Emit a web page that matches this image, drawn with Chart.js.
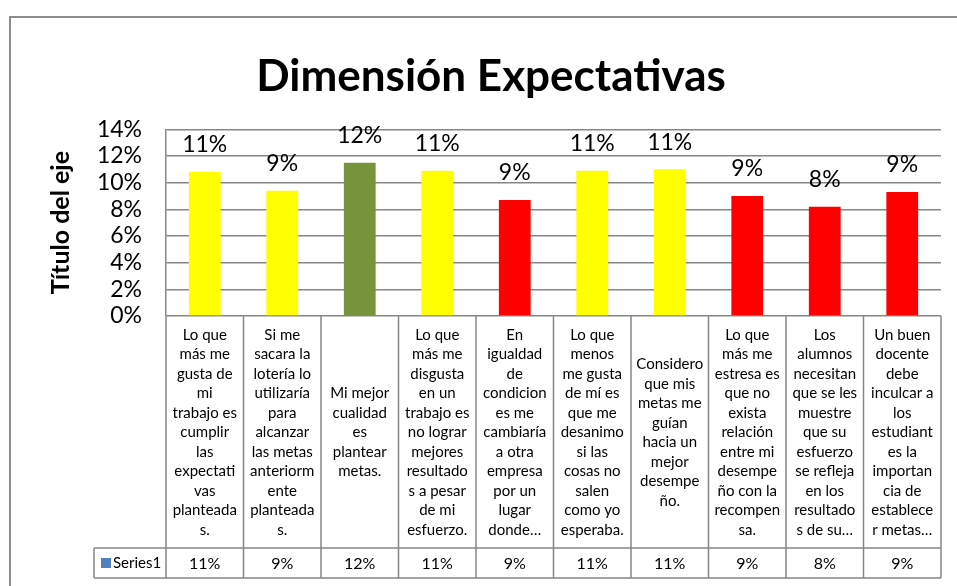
<!DOCTYPE html>
<html>
<head>
<meta charset="utf-8">
<script src="https://cdn.jsdelivr.net/npm/chart.js@4"></script>
<style>
  html, body { margin: 0; padding: 0; background: #fff; overflow: hidden; width: 957px; height: 586px; }
  #marco { position: absolute; left: 9px; top: 16px; width: 960px; height: 580px; border: 2px solid #8c8c8c; }
  canvas { display: block; }
</style>
</head>
<body>
<div id="marco"><canvas id="grafica" width="960" height="580"></canvas></div>
<script>
// Datos
const titulo = 'Dimensión Expectativas';
const tituloEje = 'Título del eje';
const serie = 'Series1';

const categorias = [
  ['Lo que', 'más me', 'gusta de', 'mi', 'trabajo es', 'cumplir', 'las', 'expectati', 'vas', 'planteada', 's.'],
  ['Si me', 'sacara la', 'lotería lo', 'utilizaría', 'para', 'alcanzar', 'las metas', 'anteriorm', 'ente', 'planteada', 's.'],
  ['Mi mejor', 'cualidad', 'es', 'plantear', 'metas.'],
  ['Lo que', 'más me', 'disgusta', 'en un', 'trabajo es', 'no lograr', 'mejores', 'resultado', 's a pesar', 'de mi', 'esfuerzo.'],
  ['En', 'igualdad', 'de', 'condicion', 'es me', 'cambiaría', 'a otra', 'empresa', 'por un', 'lugar', 'donde…'],
  ['Lo que', 'menos', 'me gusta', 'de mí es', 'que me', 'desanimo', 'si las', 'cosas no', 'salen', 'como yo', 'esperaba.'],
  ['Considero', 'que mis', 'metas me', 'guían', 'hacia un', 'mejor', 'desempe', 'ño.'],
  ['Lo que', 'más me', 'estresa es', 'que no', 'exista', 'relación', 'entre mi', 'desempe', 'ño con la', 'recompen', 'sa.'],
  ['Los', 'alumnos', 'necesitan', 'que se les', 'muestre', 'que su', 'esfuerzo', 'se refleja', 'en los', 'resultado', 's de su…'],
  ['Un buen', 'docente', 'debe', 'inculcar a', 'los', 'estudiant', 'es la', 'importan', 'cia de', 'establece', 'r metas…'],
];

// porcentajes
const valores = [10.8, 9.4, 11.5, 10.9, 8.7, 10.9, 11.0, 9.0, 8.2, 9.3];

const AMARILLO = '#ffff00', VERDE = '#77933c', ROJO = '#ff0000';
const colores = [AMARILLO, AMARILLO, VERDE, AMARILLO, ROJO, AMARILLO, AMARILLO, ROJO, ROJO, ROJO];

const marcasY = [0, 2, 4, 6, 8, 10, 12, 14];

const FUENTE = 'Lato, "Noto Sans", sans-serif';
const GRIS = '#868686';

// etiquetas de datos encima de cada barra
const etiquetas = {
  id: 'etiquetas',
  afterDatasetsDraw(chart) {
    const ctx = chart.ctx;
    ctx.save();
    ctx.font = '23px ' + FUENTE;
    ctx.fillStyle = '#000';
    ctx.textAlign = 'center';
    ctx.textBaseline = 'middle';
    chart.getDatasetMeta(0).data.forEach((bar, i) => {
      ctx.fillText(Math.round(valores[i]) + '%', bar.x, bar.y - 27);
    });
    ctx.restore();
  }
};

// tabla de datos bajo el eje x (bordes + fila de la serie)
const tabla = {
  id: 'tabla',
  afterDraw(chart) {
    const ctx = chart.ctx;
    const xs = chart.scales.x;
    const n = categorias.length;
    const ancho = xs.width / n;
    const arriba = xs.top;
    const medio = xs.bottom - 30;
    const abajo = xs.bottom;
    const izqSerie = xs.left - 72;

    ctx.save();
    ctx.strokeStyle = GRIS;
    ctx.lineWidth = 1.5;
    ctx.beginPath();
    for (let i = 0; i <= n; i++) {
      const x = xs.left + i * ancho;
      ctx.moveTo(x, arriba);
      ctx.lineTo(x, abajo);
    }
    ctx.moveTo(izqSerie, medio);
    ctx.lineTo(xs.right, medio);
    ctx.moveTo(izqSerie, abajo);
    ctx.lineTo(xs.right, abajo);
    ctx.moveTo(izqSerie, medio);
    ctx.lineTo(izqSerie, abajo);
    ctx.stroke();

    ctx.fillStyle = '#000';
    ctx.font = '16px ' + FUENTE;
    ctx.textAlign = 'center';
    ctx.textBaseline = 'middle';
    const yFila = (medio + abajo) / 2 + 1;
    valores.forEach((v, i) => {
      ctx.fillText(Math.round(v) + '%', xs.getPixelForValue(i), yFila);
    });

    // leyenda de la serie
    ctx.fillStyle = '#4f81bd';
    ctx.fillRect(izqSerie + 7, yFila - 6, 10, 10);
    ctx.fillStyle = '#000';
    ctx.font = '15px ' + FUENTE;
    ctx.textAlign = 'left';
    ctx.fillText(serie, izqSerie + 19, yFila - 1);
    ctx.restore();
  }
};

new Chart(document.getElementById('grafica'), {
  type: 'bar',
  data: {
    labels: categorias,
    datasets: [{
      label: serie,
      data: valores,
      backgroundColor: colores,
      barPercentage: 0.82,
      categoryPercentage: 0.5,
    }],
  },
  options: {
    responsive: false,
    maintainAspectRatio: false,
    animation: false,
    layout: { padding: { left: 30, right: 30, top: 0, bottom: 20 } },
    plugins: {
      legend: { display: false },
      tooltip: { enabled: false },
      title: {
        display: true,
        text: titulo,
        color: '#000',
        font: { family: FUENTE, size: 44, weight: 'bold', lineHeight: 1.2 },
        padding: { top: 32, bottom: 26.5 },
      },
    },
    scales: {
      x: {
        grid: { display: false, drawTicks: false },
        border: { display: false },
        ticks: {
          color: '#000',
          autoSkip: false,
          maxRotation: 0,
          crossAlign: 'center',
          padding: 19,
          font: { family: FUENTE, size: 15, lineHeight: '19.5px' },
        },
        afterFit(s) { s.height = 262; },
      },
      y: {
        min: 0,
        max: 14,
        afterBuildTicks(s) { s.ticks = marcasY.map(v => ({ value: v })); },
        grid: { color: GRIS, lineWidth: 1.5, drawTicks: false },
        border: { display: true, color: GRIS, width: 1.5 },
        ticks: {
          color: '#000',
          autoSkip: false,
          padding: 24,
          font: { family: FUENTE, size: 23 },
          callback: v => v + '%',
        },
        title: {
          display: true,
          text: tituloEje,
          color: '#000',
          font: { family: FUENTE, size: 25, weight: 'bold', lineHeight: 1.2 },
          padding: { top: 5, bottom: 0 },
        },
        afterFit(s) { s.width = 125; },
      },
    },
  },
  plugins: [etiquetas, tabla],
});
</script>
</body>
</html>
